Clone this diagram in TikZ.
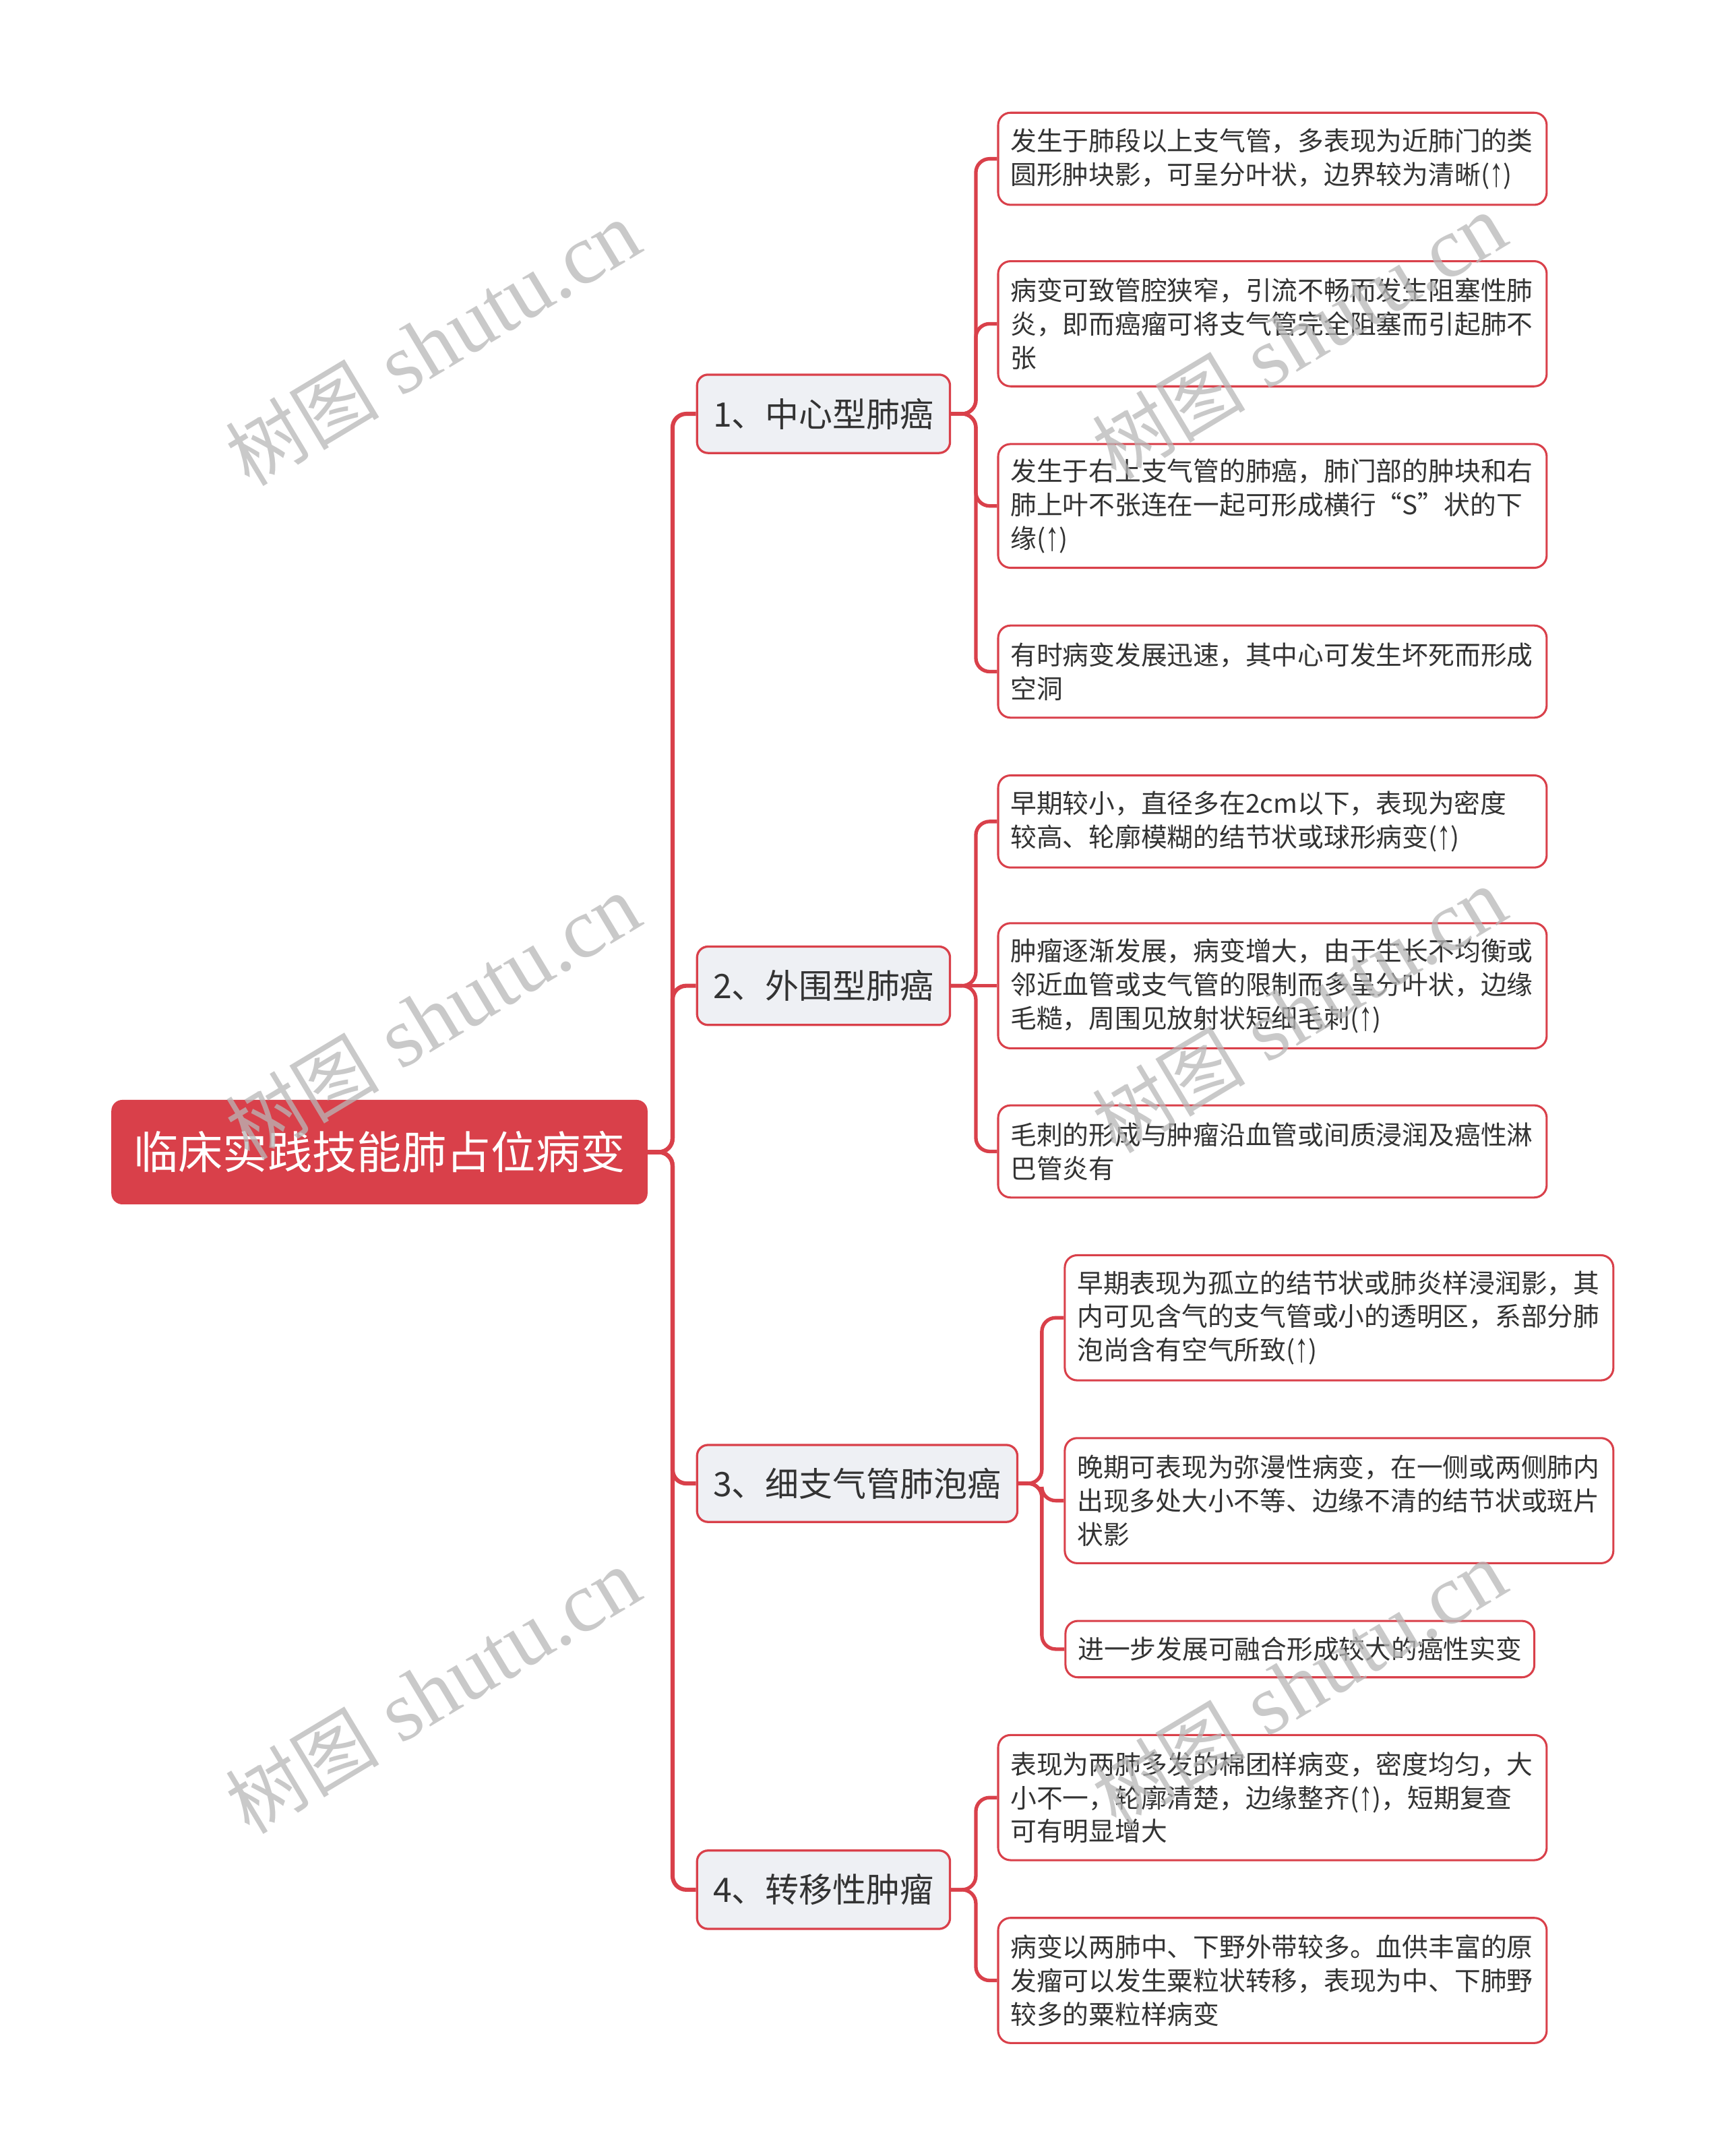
\documentclass[tikz,border=0pt]{standalone}
\usepackage{fontspec}
\usepackage{graphicx}
\newfontfamily\cjk{Noto Sans CJK SC}
\newfontfamily\wmserif{Liberation Serif}
\newfontfamily\arr{Liberation Sans}
\newcommand{\up}{({\arr\raisebox{-0.08em}{\scalebox{1.05}[1.55]{↑}}})}
\definecolor{lred}{HTML}{D9404A}
\definecolor{lonefill}{HTML}{EEF0F4}
\definecolor{txt}{HTML}{333333}
\tikzset{
  rootbox/.style={fill=lred, draw=none, rounded corners=8pt, minimum width=390pt, minimum height=76pt, text=white, font=\cjk\fontsize{32.5pt}{36pt}\selectfont, inner sep=0pt},
  lonebox/.style={fill=lonefill, draw=lred, line width=1.6pt, rounded corners=8pt, minimum height=57pt, minimum width=184pt, text=txt, font=\cjk\fontsize{24.5pt}{28pt}\selectfont, inner sep=0pt},
  ltwobox/.style={fill=white, draw=lred, line width=1.5pt, rounded corners=9pt, text width=381pt, inner xsep=9pt, inner ysep=0pt, align=left, text=txt, font=\cjk\fontsize{19pt}{24.4pt}\selectfont},
  twol/.style={minimum height=67pt},
  threel/.style={minimum height=91pt},
  conn/.style={draw=lred, line width=2.6pt, rounded corners=10pt},
  trunkline/.style={draw=lred, line width=3pt, rounded corners=10pt},
  wm/.style={text=black!28, opacity=0.75, rotate=31, inner sep=0pt}
}
\begin{document}
\begin{tikzpicture}[x=1pt,y=-1pt]
\fill[white] (0,0) rectangle (1255,1568.2);
\useasboundingbox (0,0) rectangle (1255,1568.2);

% root
\node[rootbox] (root) at (276,838) {临床实践技能肺占位病变};

% level 1
\node[lonebox] (n1) at (599,301) {1、中心型肺癌};
\node[lonebox] (n2) at (599,717) {2、外围型肺癌};
\node[lonebox, minimum width=233pt, minimum height=56pt] (n3) at (623.5,1079) {3、细支气管肺泡癌};
\node[lonebox] (n4) at (599,1374.5) {4、转移性肿瘤};

% group 1
\node[ltwobox, twol] (g1a) at (925.5,115.5) {发生于肺段以上支气管，多表现为近肺门的类\\圆形肿块影，可呈分叶状，边界较为清晰\up};
\node[ltwobox, threel] (g1b) at (925.5,235.5) {病变可致管腔狭窄，引流不畅而发生阻塞性肺\\炎，即而癌瘤可将支气管完全阻塞而引起肺不\\张};
\node[ltwobox, threel, minimum height=90pt] (g1c) at (925.5,368) {发生于右上支气管的肺癌，肺门部的肿块和右\\肺上叶不张连在一起可形成横行“S”状的下\\缘\up};
\node[ltwobox, twol] (g1d) at (925.5,488.5) {有时病变发展迅速，其中心可发生坏死而形成\\空洞};

% group 2
\node[ltwobox, twol] (g2a) at (925.5,597.5) {早期较小，直径多在2cm以下，表现为密度\\较高、轮廓模糊的结节状或球形病变\up};
\node[ltwobox, threel] (g2b) at (925.5,717) {肿瘤逐渐发展，病变增大，由于生长不均衡或\\邻近血管或支气管的限制而多呈分叶状，边缘\\毛糙，周围见放射状短细毛刺\up};
\node[ltwobox, twol] (g2c) at (925.5,837.5) {毛刺的形成与肿瘤沿血管或间质浸润及癌性淋\\巴管炎有};

% group 3
\node[ltwobox, threel] (g3a) at (974,958.5) {早期表现为孤立的结节状或肺炎样浸润影，其\\内可见含气的支气管或小的透明区，系部分肺\\泡尚含有空气所致\up};
\node[ltwobox, threel] (g3b) at (974,1091.5) {晚期可表现为弥漫性病变，在一侧或两侧肺内\\出现多处大小不等、边缘不清的结节状或斑片\\状影};
\node[ltwobox, text width=323pt, minimum height=41pt] (g3c) at (945.5,1199.5) {进一步发展可融合形成较大的癌性实变};

% group 4
\node[ltwobox, threel] (g4a) at (925.5,1307.5) {表现为两肺多发的棉团样病变，密度均匀，大\\小不一，轮廓清楚，边缘整齐\up，短期复查\\可有明显增大};
\node[ltwobox, threel] (g4b) at (925.5,1440.5) {病变以两肺中、下野外带较多。血供丰富的原\\发瘤可以发生粟粒状转移，表现为中、下肺野\\较多的粟粒样病变};

% trunk connectors
\draw[trunkline] (root.east) -- ++(18,0) |- (n1.west);
\draw[trunkline] (root.east) -- ++(18,0) |- (n2.west);
\draw[trunkline] (root.east) -- ++(18,0) |- (n3.west);
\draw[trunkline] (root.east) -- ++(18,0) |- (n4.west);

% group connectors
\draw[conn] (n1.east) -- ++(18,0) |- (g1a.west);
\draw[conn] (n1.east) -- ++(18,0) |- (g1b.west);
\draw[conn] (n1.east) -- ++(18,0) |- (g1c.west);
\draw[conn] (n1.east) -- ++(18,0) |- (g1d.west);

\draw[conn] (n2.east) -- ++(18,0) |- (g2a.west);
\draw[conn] (n2.east) -- (g2b.west);
\draw[conn] (n2.east) -- ++(18,0) |- (g2c.west);

\draw[conn] (n3.east) -- ++(17,0) |- (g3a.west);
\draw[conn] (n3.east) -- ++(17,0) |- (g3b.west);
\draw[conn] (n3.east) -- ++(17,0) |- (g3c.west);

\draw[conn] (n4.east) -- ++(18,0) |- (g4a.west);
\draw[conn] (n4.east) -- ++(18,0) |- (g4b.west);

% watermarks
\foreach \wx/\wy [count=\i] in {315/250, 315/740, 315/1230, 945/245, 945/735, 945/1225}{
  \node[wm] (wm\i) at (\wx,\wy) {\cjk\fontsize{56pt}{60pt}\selectfont 树图\hspace{16pt}{\wmserif\fontsize{62pt}{66pt}\selectfont shutu.cn}};
}
\end{tikzpicture}
\end{document}
